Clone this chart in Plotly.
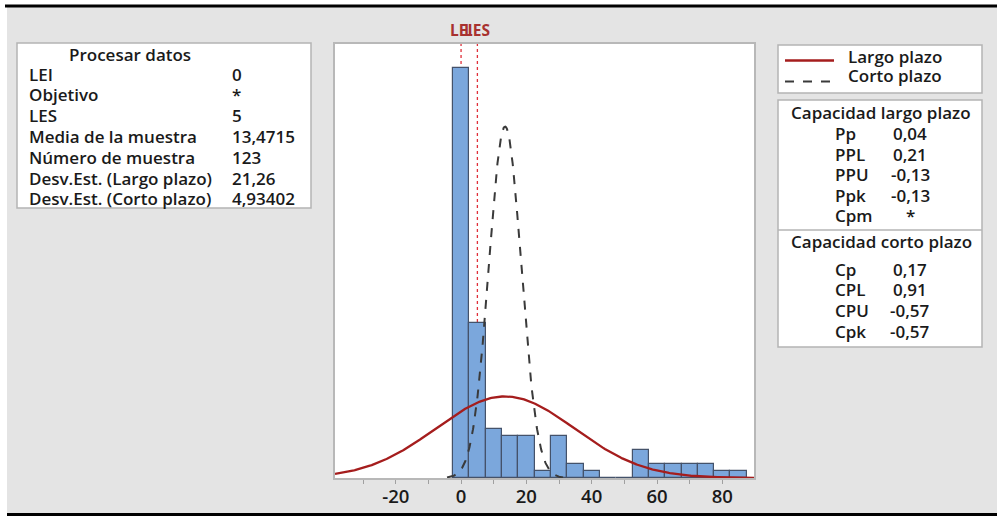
import numpy as np
import plotly.graph_objects as go

# ---------------- data ----------------
bin_centers = [0, 5, 10, 15, 20, 25, 30, 35, 40, 45, 50, 55, 60, 65, 70, 75, 80, 85]
bin_counts = [58, 22, 7, 6, 6, 1, 6, 2, 1, 0, 0, 4, 2, 2, 2, 2, 1, 1]
bin_width = 5
lei = 0
les = 5
sample_mean = 13.4715
sample_n = 123
sd_long = 21.26
sd_short = 4.93402

process_labels = ["LEI", "Objetivo", "LES", "Media de la muestra", "Número de muestra",
                  "Desv.Est. (Largo plazo)", "Desv.Est. (Corto plazo)"]
process_values = ["0", "*", "5", "13,4715", "123", "21,26", "4,93402"]

long_labels = ["Pp", "PPL", "PPU", "Ppk", "Cpm"]
long_values = ["0,04", "0,21", "-0,13", "-0,13", "*"]
short_labels = ["Cp", "CPL", "CPU", "Cpk"]
short_values = ["0,17", "0,91", "-0,57", "-0,57"]

x_ticks = [-20, 0, 20, 40, 60, 80]

# ---------------- geometry helpers ----------------
W, H = 997, 516
ML, MR, MT, MB = 335, 243, 44, 38
PW, PH = W - ML - MR, H - MT - MB


def px(x):
    return (x - ML) / PW


def py(y):
    return (H - MB - y) / PH


FONT = "Open Sans"
FS = 17
WT = 600
TXT = "#1a1a1a"

fig = go.Figure()

fig.add_trace(go.Bar(
    x=bin_centers, y=bin_counts, width=bin_width,
    marker=dict(color="#7ba7dc", line=dict(color="#44526a", width=1.2)),
    showlegend=False, hoverinfo="x+y"))

scale = sample_n * bin_width
xl = np.linspace(-38.6, 89.7, 400)
yl = scale * np.exp(-0.5 * ((xl - sample_mean) / sd_long) ** 2) / (sd_long * np.sqrt(2 * np.pi))
fig.add_trace(go.Scatter(x=xl, y=yl, mode="lines", line=dict(color="#a51d1d", width=2.3),
                         showlegend=False))
xs = np.linspace(sample_mean - 3.6 * sd_short, sample_mean + 3.6 * sd_short, 300)
ys = scale * np.exp(-0.5 * ((xs - sample_mean) / sd_short) ** 2) / (sd_short * np.sqrt(2 * np.pi))
fig.add_trace(go.Scatter(x=xs, y=ys, mode="lines",
                         line=dict(color="#3a3a3a", width=2, dash="dash"), showlegend=False))

shapes = []
annotations = []

# spec limit lines
for v in (lei, les):
    shapes.append(dict(type="line", xref="x", yref="paper", x0=v, x1=v, y0=0, y1=1,
                       line=dict(color="#e0303a", width=1.3, dash="dot"), layer="below"))
for v, t in ((lei, "LEI"), (les, "LES")):
    annotations.append(dict(xref="x", yref="paper", x=v, y=py(30), text="<b>%s</b>" % t,
                            showarrow=False, xanchor="center", yanchor="middle",
                            font=dict(family=FONT, size=15.5, color="#a8312f")))

# outer frame: white strips and black lines
shapes.append(dict(type="rect", xref="paper", yref="paper", x0=px(0), x1=px(7), y0=py(H), y1=py(0),
                   fillcolor="white", line=dict(width=0), layer="above"))
shapes.append(dict(type="rect", xref="paper", yref="paper", x0=px(0), x1=px(W), y0=py(5), y1=py(0),
                   fillcolor="white", line=dict(width=0), layer="above"))
shapes.append(dict(type="rect", xref="paper", yref="paper", x0=px(5), x1=px(W), y0=py(7.5), y1=py(4.5),
                   fillcolor="black", line=dict(width=0), layer="above"))
shapes.append(dict(type="rect", xref="paper", yref="paper", x0=px(7), x1=px(W), y0=py(516), y1=py(513),
                   fillcolor="black", line=dict(width=0), layer="above"))

BOX_LINE = dict(color="#b4b4b4", width=1.5)


def box(x0, y0, x1, y1):
    shapes.append(dict(type="rect", xref="paper", yref="paper", x0=px(x0), x1=px(x1),
                       y0=py(y1), y1=py(y0), fillcolor="white", line=BOX_LINE, layer="above"))


def text(x, y, t, anchor="left", size=FS):
    annotations.append(dict(xref="paper", yref="paper", x=px(x), y=py(y), text=t, showarrow=False,
                            xanchor=anchor, yanchor="middle",
                            font=dict(family=FONT, size=size, color=TXT, weight=WT)))


# left process data box
box(17, 43, 311, 208)
text(130, 55, "Procesar datos", anchor="center")
for i, (lab, val) in enumerate(zip(process_labels, process_values)):
    yy = 74 + i * 20.8
    text(27, yy, lab)
    text(230, yy, val)

# legend box
box(778, 45, 982, 93)
shapes.append(dict(type="line", xref="paper", yref="paper", x0=px(785), x1=px(834),
                   y0=py(60.5), y1=py(60.5), line=dict(color="#a51d1d", width=2.3), layer="above"))
shapes.append(dict(type="line", xref="paper", yref="paper", x0=px(785), x1=px(834),
                   y0=py(81.5), y1=py(81.5), line=dict(color="#3a3a3a", width=2, dash="dash"),
                   layer="above"))
text(846, 56, "Largo plazo")
text(846, 75.5, "Corto plazo")

# capability box
box(778, 100, 982, 347)
shapes.append(dict(type="line", xref="paper", yref="paper", x0=px(778), x1=px(982),
                   y0=py(230), y1=py(230), line=BOX_LINE, layer="above"))
text(881, 112.5, "Capacidad largo plazo", anchor="center")
for i, (lab, val) in enumerate(zip(long_labels, long_values)):
    yy = 133.5 + i * 20.6
    text(833, yy, lab)
    text(910, yy, val, anchor="center")
text(881, 241.5, "Capacidad corto plazo", anchor="center")
for i, (lab, val) in enumerate(zip(short_labels, short_values)):
    yy = 269 + i * 20.7
    text(833, yy, lab)
    text(910, yy, val, anchor="center")

fig.update_layout(
    width=W, height=H,
    margin=dict(l=ML, r=MR, t=MT, b=MB, pad=0, autoexpand=False),
    paper_bgcolor="#e4e4e4", plot_bgcolor="white",
    bargap=0, showlegend=False,
    shapes=shapes, annotations=annotations,
    font=dict(family=FONT, color=TXT),
    xaxis=dict(range=[-38.6, 89.7], tickvals=x_ticks, ticktext=[str(v) for v in x_ticks],
               ticks="outside", ticklen=4, tickcolor="#a0a0a0", tickwidth=1,
               ticklabelstandoff=-3, automargin=False,
               minor=dict(dtick=10, tick0=0, ticks="outside", ticklen=4, tickcolor="#a0a0a0"),
               showgrid=False, zeroline=False, showline=True, mirror=True,
               linecolor="#b8b8b8", linewidth=1.5,
               tickfont=dict(family=FONT, size=18.5, color=TXT, weight=WT)),
    yaxis=dict(range=[0, 61.4], showticklabels=False, ticks="", showgrid=False, zeroline=False,
               automargin=False,
               showline=True, mirror=True, linecolor="#b8b8b8", linewidth=1.5),
)

fig.write_html("out.html")
